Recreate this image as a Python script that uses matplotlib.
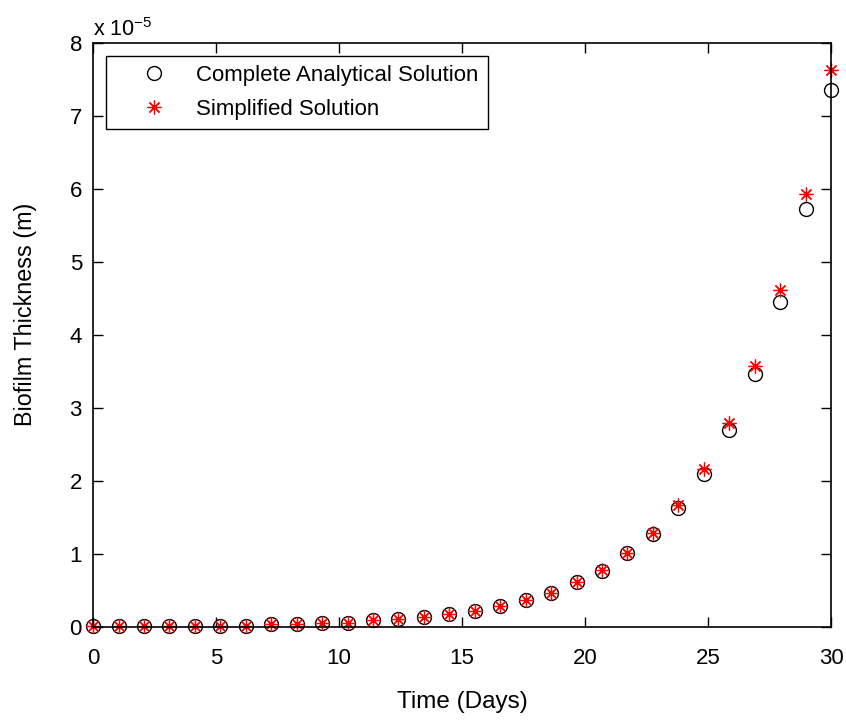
import matplotlib
matplotlib.use('Agg')
import matplotlib.pyplot as plt
import numpy as np

plt.rcParams['font.family'] = ['Liberation Sans', 'DejaVu Sans']
plt.rcParams['mathtext.default'] = 'regular'

# time points (days)
time_days = np.linspace(0, 30, 30)

# biofilm thickness, in units of 1e-5 m
complete_sol = [0.02, 0.02, 0.02, 0.02, 0.02, 0.02, 0.02, 0.04, 0.04, 0.06,
                0.06, 0.09, 0.11, 0.14, 0.18, 0.22, 0.29, 0.37, 0.46, 0.61,
                0.77, 1.01, 1.28, 1.63, 2.09, 2.70, 3.47, 4.45, 5.72, 7.36]
simplified_sol = [0.02, 0.02, 0.02, 0.02, 0.02, 0.02, 0.02, 0.04, 0.04, 0.06,
                  0.06, 0.09, 0.11, 0.14, 0.18, 0.22, 0.29, 0.37, 0.47, 0.62,
                  0.78, 1.02, 1.29, 1.67, 2.16, 2.79, 3.58, 4.61, 5.93, 7.63]
scale = 1e-5
fs = 16

fig = plt.figure(figsize=(8.46, 7.23), dpi=100)
ax = fig.add_axes([0.110, 0.1328, 0.8723, 0.8077])

ax.plot(time_days, np.array(complete_sol) * scale, 'o', mfc='none', mec='black',
        ms=10, mew=1.0, label='Complete Analytical Solution', clip_on=False)
ax.plot(time_days, np.array(simplified_sol) * scale, ls='none', marker=(8, 2, 0),
        color='red', mec='red', ms=10, mew=0.9, label='Simplified Solution', clip_on=False)

ax.set_xlim(0, 30)
ax.set_ylim(0, 8e-5)
ax.set_xticks(np.arange(0, 31, 5))
ax.set_yticks(np.arange(0, 9) * scale)
ax.set_yticklabels([str(v) for v in range(9)])

ax.tick_params(axis='both', direction='in', length=7, width=1, labelsize=fs,
               top=True, right=True)
ax.tick_params(axis='x', pad=15)
ax.tick_params(axis='y', pad=8)
for s in ax.spines.values():
    s.set_linewidth(1.2)

ax.set_xlabel('Time (Days)', fontsize=17.5, va='center')
ax.set_ylabel('Biofilm Thickness (m)', fontsize=16.8, va='center')
ax.xaxis.set_label_coords(0.5, -0.128)
ax.yaxis.set_label_coords(-0.092, 0.536)
ax.text(0.0, 1.003, 'x 10$^{-5}$', transform=ax.transAxes, fontsize=15.5,
        ha='left', va='bottom')

leg = ax.legend(loc='upper left', fontsize=16, fancybox=False, edgecolor='black',
                framealpha=1, borderaxespad=0.6, handletextpad=0.2, borderpad=0.4,
                labelspacing=0.58, handlelength=3.45)
leg.get_frame().set_linewidth(1.0)

plt.savefig('out.png', dpi=100)
